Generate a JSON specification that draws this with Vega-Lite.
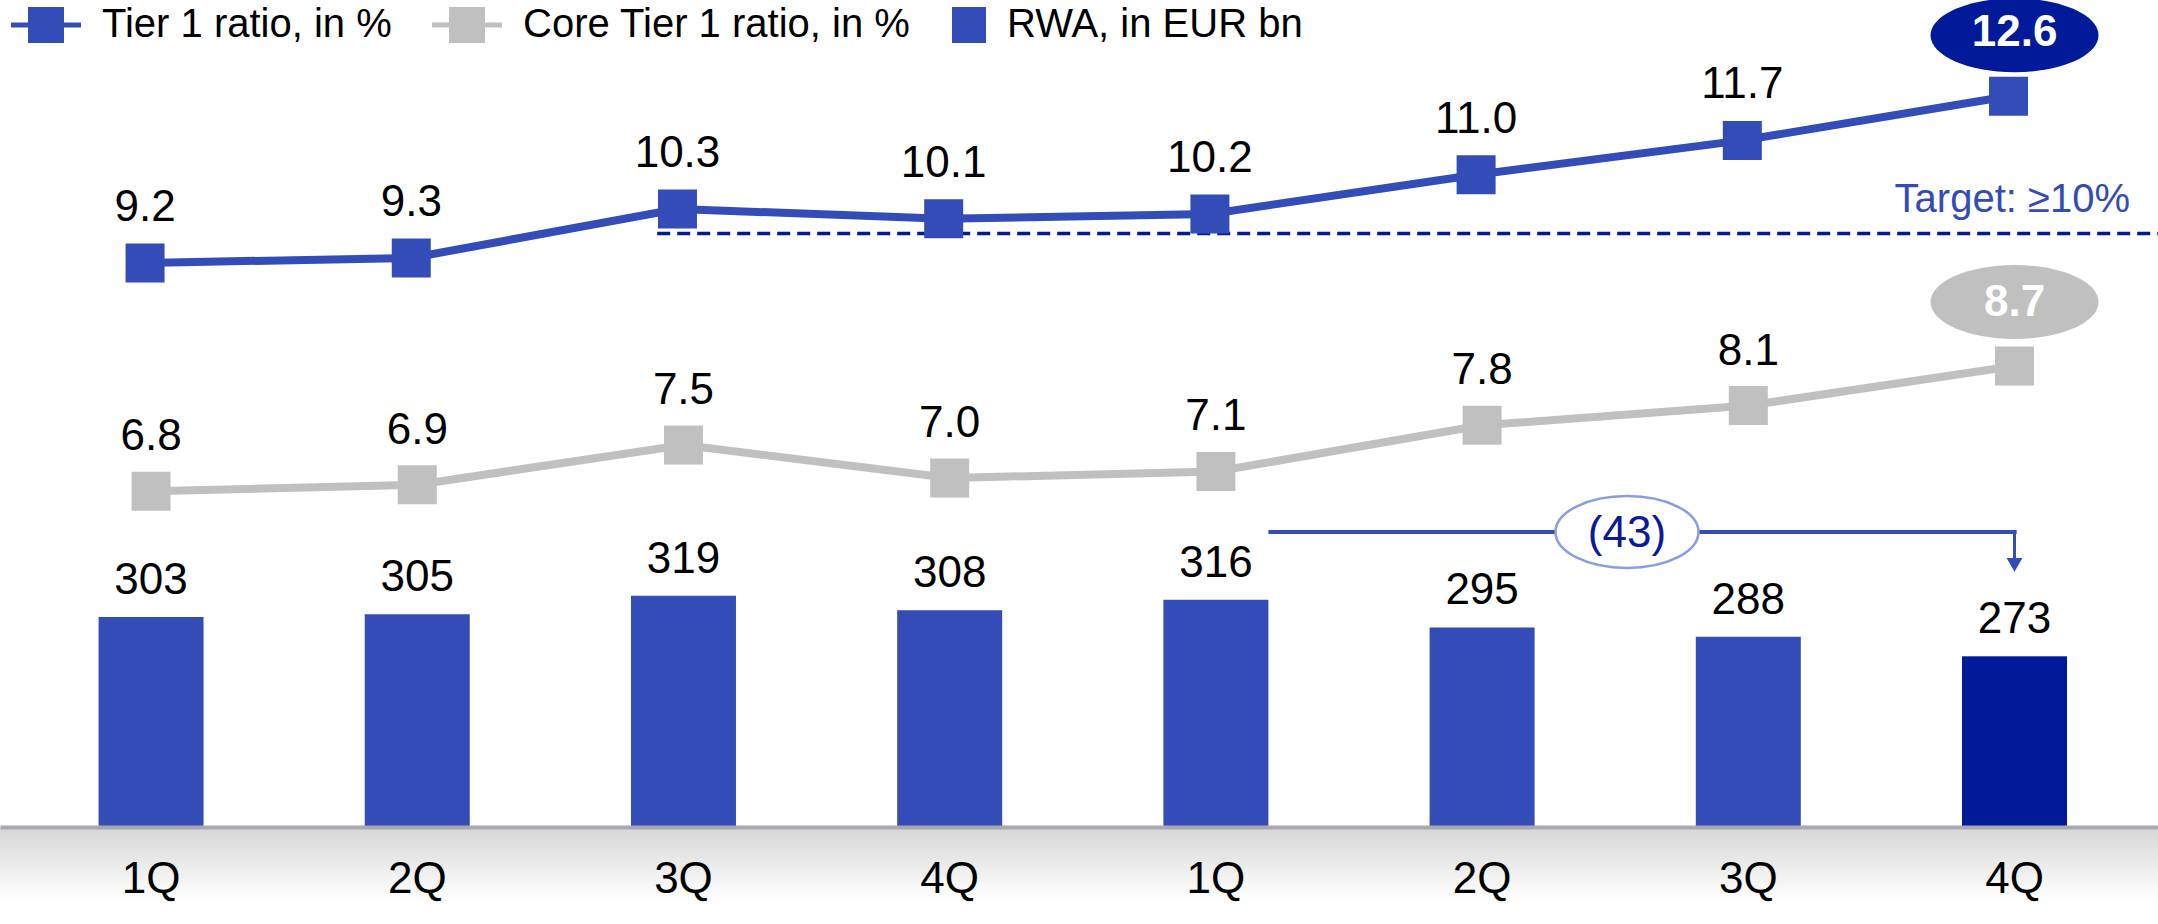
{
  "$schema": "https://vega.github.io/schema/vega-lite/v6.json",
  "width": 2158,
  "height": 827,
  "autosize": {"type": "none"},
  "padding": {"left": 0, "top": 0, "right": 0, "bottom": 97},
  "background": "white",
  "config": {"view": {"stroke": null}, "font": "Liberation Sans"},
  "data": {"values": [
    {"period": "Y1 1Q", "rwa": 303, "tier1": 9.2, "core": 6.8},
    {"period": "Y1 2Q", "rwa": 305, "tier1": 9.3, "core": 6.9},
    {"period": "Y1 3Q", "rwa": 319, "tier1": 10.3, "core": 7.5},
    {"period": "Y1 4Q", "rwa": 308, "tier1": 10.1, "core": 7.0},
    {"period": "Y2 1Q", "rwa": 316, "tier1": 10.2, "core": 7.1},
    {"period": "Y2 2Q", "rwa": 295, "tier1": 11.0, "core": 7.8},
    {"period": "Y2 3Q", "rwa": 288, "tier1": 11.7, "core": 8.1},
    {"period": "Y2 4Q", "rwa": 273, "tier1": 12.6, "core": 8.7}
  ]},
  "resolve": {"scale": {"y": "independent"}},
  "layer": [
    {
      "transform": [{"filter": "datum.period === 'Y2 4Q'"}],
      "mark": {"type": "rect", "color": {"gradient": "linear", "x1": 0, "y1": 0, "x2": 0, "y2": 1, "stops": [{"offset": 0, "color": "#D6D6D6"}, {"offset": 1, "color": "#FFFFFF"}]}},
      "encoding": {
        "y": {"datum": 143.5, "type": "quantitative", "scale": {"domain": [143.5, 771.4], "nice": false, "zero": false}, "axis": null},
        "y2": {"datum": 88}
      }
    },
    {
      "mark": {"type": "bar"},
      "encoding": {
        "x": {"field": "period", "type": "ordinal", "title": null,
          "scale": {"domain": ["Y1 1Q","Y1 2Q","Y1 3Q","Y1 4Q","Y2 1Q","Y2 2Q","Y2 3Q","Y2 4Q"], "paddingInner": 0.6056, "paddingOuter": 0.356, "align": 0.52},
          "axis": {"title": null, "labelExpr": "slice(datum.label, 3)", "labelFontSize": 44, "labelFont": "Liberation Sans", "labelColor": "#000000", "ticks": false, "tickSize": 0, "labelPadding": 30, "domainColor": "#A8A7B3", "domainWidth": 4, "labelAngle": 0, "zindex": 1, "grid": false}},
        "y": {"field": "rwa", "type": "quantitative", "scale": {"domain": [143.5, 771.4], "nice": false, "zero": false}, "axis": null},
        "y2": {"datum": 143.5},
        "color": {"datum": "RWA, in EUR bn",
          "scale": {"domain": ["Tier 1 ratio, in %", "Core Tier 1 ratio, in %", "RWA, in EUR bn"], "range": ["#344CB7", "#C0C0C0", "#344CB7"]},
          "legend": {"title": null, "orient": "none", "legendX": 11, "legendY": -10, "direction": "horizontal",
            "labelFontSize": 40, "labelFont": "Liberation Sans", "labelColor": "#000000", "symbolSize": 4900,
            "labelOffset": 21, "columnPadding": 40, "padding": 0, "labelLimit": 0,
            "encode": {
              "symbols": {"update": {
                "shape": {"signal": "datum.value === 'RWA, in EUR bn' ? 'M-0.972,-0.514H0V0.514H-0.972Z' : 'M-1,-0.071H1V0.071H-1ZM-0.514,-0.514H0.514V0.514H-0.514Z'"},
                "fill": {"signal": "datum.value === 'Core Tier 1 ratio, in %' ? '#C0C0C0' : '#344CB7'"},
                "stroke": {"value": "transparent"},
                "strokeWidth": {"value": 0},
                "opacity": {"value": 1}
              }},
              "labels": {"update": {"dx": {"signal": "datum.value === 'RWA, in EUR bn' ? -35 : 0"}}}
            }}}
      }
    },
    {
      "transform": [{"filter": "datum.period === 'Y2 4Q'"}],
      "mark": {"type": "bar", "color": "#001A99"},
      "encoding": {
        "x": {"field": "period", "type": "ordinal", "title": null, "scale": {"domain": ["Y1 1Q","Y1 2Q","Y1 3Q","Y1 4Q","Y2 1Q","Y2 2Q","Y2 3Q","Y2 4Q"], "paddingInner": 0.6056, "paddingOuter": 0.356, "align": 0.52}},
        "y": {"field": "rwa", "type": "quantitative", "scale": {"domain": [143.5, 771.4], "nice": false, "zero": false}, "axis": null},
        "y2": {"datum": 143.5}
      }
    },
    {
      "mark": {"type": "text", "fontSize": 44, "font": "Liberation Sans", "color": "#000000", "baseline": "alphabetic", "dy": -23},
      "encoding": {
        "x": {"field": "period", "type": "ordinal", "title": null, "scale": {"domain": ["Y1 1Q","Y1 2Q","Y1 3Q","Y1 4Q","Y2 1Q","Y2 2Q","Y2 3Q","Y2 4Q"], "paddingInner": 0.6056, "paddingOuter": 0.356, "align": 0.52}},
        "y": {"field": "rwa", "type": "quantitative", "scale": {"domain": [143.5, 771.4], "nice": false, "zero": false}, "axis": null},
        "text": {"field": "rwa", "type": "quantitative", "format": "d"}
      }
    },
    {
      "transform": [{"filter": "datum.period === 'Y2 4Q'"}],
      "mark": {"type": "rule", "color": "#344CB7", "strokeWidth": 4},
      "encoding": {
        "x": {"datum": "Y2 1Q", "type": "ordinal", "bandPosition": 1.0, "scale": {"domain": ["Y1 1Q","Y1 2Q","Y1 3Q","Y1 4Q","Y2 1Q","Y2 2Q","Y2 3Q","Y2 4Q"], "paddingInner": 0.6056, "paddingOuter": 0.356, "align": 0.52}},
        "x2": {"datum": "Y2 4Q", "bandPosition": 0.52},
        "y": {"datum": 367.5, "type": "quantitative", "scale": {"domain": [143.5, 771.4], "nice": false, "zero": false}, "axis": null}
      }
    },
    {
      "transform": [{"filter": "datum.period === 'Y2 4Q'"}],
      "mark": {"type": "rule", "color": "#344CB7", "strokeWidth": 3},
      "encoding": {
        "x": {"datum": "Y2 4Q", "type": "ordinal", "bandPosition": 0.5, "scale": {"domain": ["Y1 1Q","Y1 2Q","Y1 3Q","Y1 4Q","Y2 1Q","Y2 2Q","Y2 3Q","Y2 4Q"], "paddingInner": 0.6056, "paddingOuter": 0.356, "align": 0.52}},
        "y": {"datum": 369, "type": "quantitative", "scale": {"domain": [143.5, 771.4], "nice": false, "zero": false}, "axis": null},
        "y2": {"datum": 346.5}
      }
    },
    {
      "transform": [{"filter": "datum.period === 'Y2 4Q'"}],
      "mark": {"type": "point", "shape": "triangle-down", "filled": true, "size": 250, "color": "#344CB7", "opacity": 1},
      "encoding": {
        "x": {"datum": "Y2 4Q", "type": "ordinal", "bandPosition": 0.5, "scale": {"domain": ["Y1 1Q","Y1 2Q","Y1 3Q","Y1 4Q","Y2 1Q","Y2 2Q","Y2 3Q","Y2 4Q"], "paddingInner": 0.6056, "paddingOuter": 0.356, "align": 0.52}},
        "y": {"datum": 342.5, "type": "quantitative", "scale": {"domain": [143.5, 771.4], "nice": false, "zero": false}, "axis": null}
      }
    },
    {
      "transform": [{"filter": "datum.period === 'Y2 4Q'"}],
      "mark": {"type": "point", "shape": "M-1,0C-1,-0.278,-0.552,-0.503,0,-0.503C0.552,-0.503,1,-0.278,1,0C1,0.278,0.552,0.503,0,0.503C-0.552,0.503,-1,0.278,-1,0Z", "filled": true, "size": 20449, "fill": "#FFFFFF", "stroke": "#8A9CE3", "strokeWidth": 2.5, "opacity": 1, "fillOpacity": 1, "strokeOpacity": 1},
      "encoding": {
        "x": {"datum": "Y2 2Q", "type": "ordinal", "bandPosition": 1.88, "scale": {"domain": ["Y1 1Q","Y1 2Q","Y1 3Q","Y1 4Q","Y2 1Q","Y2 2Q","Y2 3Q","Y2 4Q"], "paddingInner": 0.6056, "paddingOuter": 0.356, "align": 0.52}},
        "y": {"datum": 367.5, "type": "quantitative", "scale": {"domain": [143.5, 771.4], "nice": false, "zero": false}, "axis": null}
      }
    },
    {
      "transform": [{"filter": "datum.period === 'Y2 4Q'"}],
      "mark": {"type": "text", "fontSize": 44, "font": "Liberation Sans", "color": "#0A1A99", "baseline": "middle", "align": "center", "dy": 2},
      "encoding": {
        "x": {"datum": "Y2 2Q", "type": "ordinal", "bandPosition": 1.88, "scale": {"domain": ["Y1 1Q","Y1 2Q","Y1 3Q","Y1 4Q","Y2 1Q","Y2 2Q","Y2 3Q","Y2 4Q"], "paddingInner": 0.6056, "paddingOuter": 0.356, "align": 0.52}},
        "y": {"datum": 367.5, "type": "quantitative", "scale": {"domain": [143.5, 771.4], "nice": false, "zero": false}, "axis": null},
        "text": {"value": "(43)"}
      }
    },
    {
      "transform": [{"filter": "datum.period === 'Y2 4Q'"}],
      "mark": {"type": "rule", "color": "#001A99", "strokeWidth": 3.5, "strokeDash": [13, 7]},
      "encoding": {
        "x": {"datum": "Y1 3Q", "type": "ordinal", "bandPosition": 0.25, "scale": {"domain": ["Y1 1Q","Y1 2Q","Y1 3Q","Y1 4Q","Y2 1Q","Y2 2Q","Y2 3Q","Y2 4Q"], "paddingInner": 0.6056, "paddingOuter": 0.356, "align": 0.52}},
        "x2": {"value": "width"},
        "y": {"datum": 9.8, "type": "quantitative", "scale": {"domain": [-2.312, 14.565], "nice": false, "zero": false}, "axis": null}
      }
    },
    {
      "transform": [{"filter": "datum.period === 'Y2 4Q'"}],
      "mark": {"type": "text", "fontSize": 40, "font": "Liberation Sans", "color": "#344CB7", "baseline": "alphabetic", "align": "right", "dy": -21},
      "encoding": {
        "x": {"datum": "Y2 4Q", "type": "ordinal", "bandPosition": 1.6, "scale": {"domain": ["Y1 1Q","Y1 2Q","Y1 3Q","Y1 4Q","Y2 1Q","Y2 2Q","Y2 3Q","Y2 4Q"], "paddingInner": 0.6056, "paddingOuter": 0.356, "align": 0.52}},
        "y": {"datum": 9.8, "type": "quantitative", "scale": {"domain": [-2.312, 14.565], "nice": false, "zero": false}, "axis": null},
        "text": {"value": "Target: ≥10%"}
      }
    },
    {
      "mark": {"type": "line", "strokeWidth": 8},
      "encoding": {
        "x": {"field": "period", "type": "ordinal", "title": null, "scale": {"domain": ["Y1 1Q","Y1 2Q","Y1 3Q","Y1 4Q","Y2 1Q","Y2 2Q","Y2 3Q","Y2 4Q"], "paddingInner": 0.6056, "paddingOuter": 0.356, "align": 0.52}},
        "y": {"field": "core", "type": "quantitative", "scale": {"domain": [1.705, 14.254], "nice": false, "zero": false}, "axis": null},
        "color": {"datum": "Core Tier 1 ratio, in %", "scale": {"domain": ["Tier 1 ratio, in %", "Core Tier 1 ratio, in %", "RWA, in EUR bn"], "range": ["#344CB7", "#C0C0C0", "#344CB7"]}}
      }
    },
    {
      "mark": {"type": "point", "shape": "square", "filled": true, "size": 1521, "color": "#C0C0C0", "opacity": 1},
      "encoding": {
        "x": {"field": "period", "type": "ordinal", "title": null, "scale": {"domain": ["Y1 1Q","Y1 2Q","Y1 3Q","Y1 4Q","Y2 1Q","Y2 2Q","Y2 3Q","Y2 4Q"], "paddingInner": 0.6056, "paddingOuter": 0.356, "align": 0.52}},
        "y": {"field": "core", "type": "quantitative", "scale": {"domain": [1.705, 14.254], "nice": false, "zero": false}, "axis": null}
      }
    },
    {
      "transform": [{"filter": "datum.period !== 'Y2 4Q'"}],
      "mark": {"type": "text", "fontSize": 44, "font": "Liberation Sans", "color": "#000000", "baseline": "alphabetic", "dy": -41},
      "encoding": {
        "x": {"field": "period", "type": "ordinal", "title": null, "scale": {"domain": ["Y1 1Q","Y1 2Q","Y1 3Q","Y1 4Q","Y2 1Q","Y2 2Q","Y2 3Q","Y2 4Q"], "paddingInner": 0.6056, "paddingOuter": 0.356, "align": 0.52}},
        "y": {"field": "core", "type": "quantitative", "scale": {"domain": [1.705, 14.254], "nice": false, "zero": false}, "axis": null},
        "text": {"field": "core", "type": "quantitative", "format": ".1f"}
      }
    },
    {
      "transform": [{"filter": "datum.period === 'Y2 4Q'"}],
      "mark": {"type": "point", "shape": "M-1,0C-1,-0.243,-0.552,-0.44,0,-0.44C0.552,-0.44,1,-0.243,1,0C1,0.243,0.552,0.44,0,0.44C-0.552,0.44,-1,0.243,-1,0Z", "filled": true, "size": 28224, "color": "#C0C0C0", "opacity": 1, "yOffset": -64},
      "encoding": {
        "x": {"field": "period", "type": "ordinal", "title": null, "scale": {"domain": ["Y1 1Q","Y1 2Q","Y1 3Q","Y1 4Q","Y2 1Q","Y2 2Q","Y2 3Q","Y2 4Q"], "paddingInner": 0.6056, "paddingOuter": 0.356, "align": 0.52}},
        "y": {"field": "core", "type": "quantitative", "scale": {"domain": [1.705, 14.254], "nice": false, "zero": false}, "axis": null}
      }
    },
    {
      "transform": [{"filter": "datum.period === 'Y2 4Q'"}],
      "mark": {"type": "text", "fontSize": 44, "font": "Liberation Sans", "fontWeight": "bold", "color": "#FFFFFF", "baseline": "alphabetic", "dy": -50},
      "encoding": {
        "x": {"field": "period", "type": "ordinal", "title": null, "scale": {"domain": ["Y1 1Q","Y1 2Q","Y1 3Q","Y1 4Q","Y2 1Q","Y2 2Q","Y2 3Q","Y2 4Q"], "paddingInner": 0.6056, "paddingOuter": 0.356, "align": 0.52}},
        "y": {"field": "core", "type": "quantitative", "scale": {"domain": [1.705, 14.254], "nice": false, "zero": false}, "axis": null},
        "text": {"field": "core", "type": "quantitative", "format": ".1f"}
      }
    },
    {
      "mark": {"type": "line", "strokeWidth": 8, "xOffset": -6},
      "encoding": {
        "x": {"field": "period", "type": "ordinal", "title": null, "scale": {"domain": ["Y1 1Q","Y1 2Q","Y1 3Q","Y1 4Q","Y2 1Q","Y2 2Q","Y2 3Q","Y2 4Q"], "paddingInner": 0.6056, "paddingOuter": 0.356, "align": 0.52}},
        "y": {"field": "tier1", "type": "quantitative", "scale": {"domain": [-2.312, 14.565], "nice": false, "zero": false}, "axis": null},
        "color": {"datum": "Tier 1 ratio, in %", "scale": {"domain": ["Tier 1 ratio, in %", "Core Tier 1 ratio, in %", "RWA, in EUR bn"], "range": ["#344CB7", "#C0C0C0", "#344CB7"]}}
      }
    },
    {
      "mark": {"type": "point", "shape": "square", "filled": true, "size": 1521, "color": "#344CB7", "opacity": 1, "xOffset": -6},
      "encoding": {
        "x": {"field": "period", "type": "ordinal", "title": null, "scale": {"domain": ["Y1 1Q","Y1 2Q","Y1 3Q","Y1 4Q","Y2 1Q","Y2 2Q","Y2 3Q","Y2 4Q"], "paddingInner": 0.6056, "paddingOuter": 0.356, "align": 0.52}},
        "y": {"field": "tier1", "type": "quantitative", "scale": {"domain": [-2.312, 14.565], "nice": false, "zero": false}, "axis": null}
      }
    },
    {
      "transform": [{"filter": "datum.period !== 'Y2 4Q'"}],
      "mark": {"type": "text", "fontSize": 44, "font": "Liberation Sans", "color": "#000000", "baseline": "alphabetic", "dy": -42, "dx": -6},
      "encoding": {
        "x": {"field": "period", "type": "ordinal", "title": null, "scale": {"domain": ["Y1 1Q","Y1 2Q","Y1 3Q","Y1 4Q","Y2 1Q","Y2 2Q","Y2 3Q","Y2 4Q"], "paddingInner": 0.6056, "paddingOuter": 0.356, "align": 0.52}},
        "y": {"field": "tier1", "type": "quantitative", "scale": {"domain": [-2.312, 14.565], "nice": false, "zero": false}, "axis": null},
        "text": {"field": "tier1", "type": "quantitative", "format": ".1f"}
      }
    },
    {
      "transform": [{"filter": "datum.period === 'Y2 4Q'"}],
      "mark": {"type": "point", "shape": "M-1,0C-1,-0.243,-0.552,-0.44,0,-0.44C0.552,-0.44,1,-0.243,1,0C1,0.243,0.552,0.44,0,0.44C-0.552,0.44,-1,0.243,-1,0Z", "filled": true, "size": 28224, "color": "#001A99", "opacity": 1, "yOffset": -61},
      "encoding": {
        "x": {"field": "period", "type": "ordinal", "title": null, "scale": {"domain": ["Y1 1Q","Y1 2Q","Y1 3Q","Y1 4Q","Y2 1Q","Y2 2Q","Y2 3Q","Y2 4Q"], "paddingInner": 0.6056, "paddingOuter": 0.356, "align": 0.52}},
        "y": {"field": "tier1", "type": "quantitative", "scale": {"domain": [-2.312, 14.565], "nice": false, "zero": false}, "axis": null}
      }
    },
    {
      "transform": [{"filter": "datum.period === 'Y2 4Q'"}],
      "mark": {"type": "text", "fontSize": 44, "font": "Liberation Sans", "fontWeight": "bold", "color": "#FFFFFF", "baseline": "alphabetic", "dy": -50},
      "encoding": {
        "x": {"field": "period", "type": "ordinal", "title": null, "scale": {"domain": ["Y1 1Q","Y1 2Q","Y1 3Q","Y1 4Q","Y2 1Q","Y2 2Q","Y2 3Q","Y2 4Q"], "paddingInner": 0.6056, "paddingOuter": 0.356, "align": 0.52}},
        "y": {"field": "tier1", "type": "quantitative", "scale": {"domain": [-2.312, 14.565], "nice": false, "zero": false}, "axis": null},
        "text": {"field": "tier1", "type": "quantitative", "format": ".1f"}
      }
    }
  ]
}
